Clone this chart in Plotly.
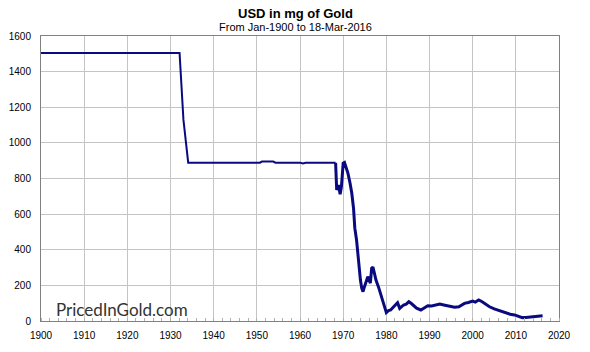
import plotly.graph_objects as go

years = [1900, 1932.1, 1933.0, 1933.5, 1933.7, 1934.1, 1950.7, 1951.2, 1953.8, 1954.3,
         1960.0, 1960.7, 1961.3, 1968.25, 1968.5, 1968.9, 1969.3, 1969.6, 1970.0, 1970.3,
         1970.6, 1971.1, 1971.6, 1972.0, 1972.4, 1972.7, 1973.1, 1973.3, 1973.6, 1973.8,
         1974.0, 1974.3, 1974.6, 1974.9, 1975.3, 1975.7, 1976.0, 1976.3, 1976.6, 1976.9,
         1977.3, 1977.6, 1978.2, 1978.7, 1979.2, 1979.6, 1980.0, 1980.5, 1981.0, 1981.7,
         1982.2, 1982.6, 1983.1, 1983.6, 1984.0, 1984.6, 1985.2, 1985.8, 1986.3, 1987.0,
         1988.0, 1988.8, 1989.6, 1990.5, 1991.5, 1992.4, 1993.3, 1994.2, 1995.0, 1995.8,
         1996.8, 1997.5, 1998.1, 1999.0, 1999.5, 2000.0, 2000.6, 2001.4, 2002.2, 2003.0,
         2003.9, 2005.0, 2005.9, 2006.9, 2007.8, 2008.7, 2009.7, 2010.5, 2011.5, 2012.3,
         2013.1, 2013.9, 2015.0, 2016.2]
mg_per_usd = [1504.6, 1504.6, 1129, 1000, 960, 888.7, 888.7, 895, 895, 889,
              889, 884, 888, 888, 736, 764, 712, 755, 886, 890,
              867, 830, 773, 717, 633, 521, 455, 399, 343, 268,
              230, 184, 165, 190, 221, 249, 230, 212, 296, 303,
              262, 230, 190, 146, 115, 80, 47, 58, 62, 80,
              95, 103, 71, 85, 90, 95, 108, 98, 86, 72,
              62, 72, 86, 84, 88, 95, 90, 84, 80, 77,
              80, 88, 99, 104, 108, 112, 106, 118, 108, 94,
              80, 68, 60, 52, 44, 38, 34, 26, 19, 20,
              22, 28, 28, 30]

title_text = "USD in mg of Gold"
subtitle_text = "From Jan-1900 to 18-Mar-2016"
watermark = "PricedInGold.com"
x_ticks = [1900, 1910, 1920, 1930, 1940, 1950, 1960, 1970, 1980, 1990, 2000, 2010, 2020]
y_ticks = [0, 200, 400, 600, 800, 1000, 1200, 1400, 1600]

# the fixed-parity era is drawn thinner, the floating era thicker (as in the source chart)
split = years.index(1968.25)
line_color = "#0a0a80"

fig = go.Figure()
fig.add_trace(go.Scatter(
    x=years[:split + 1], y=mg_per_usd[:split + 1], mode="lines",
    line=dict(color=line_color, width=2), hoverinfo="skip",
))
fig.add_trace(go.Scatter(
    x=years[split:], y=mg_per_usd[split:], mode="lines",
    line=dict(color=line_color, width=3), hoverinfo="skip",
))

fig.update_layout(
    width=590, height=352,
    margin=dict(l=40.5, r=30.5, t=36, b=31, pad=0, autoexpand=False),
    paper_bgcolor="white", plot_bgcolor="white",
    showlegend=False,
    font=dict(family="Liberation Sans, Arial, sans-serif", size=10, color="black"),
    annotations=[
        dict(text="<b>" + title_text + "</b>", xref="paper", yref="paper",
             x=0.5, y=1, xshift=-5, yshift=23, xanchor="center", yanchor="middle", showarrow=False,
             font=dict(family="Liberation Sans, Arial", size=13, color="black")),
        dict(text=subtitle_text, xref="paper", yref="paper",
             x=0.5, y=1, xshift=-5, yshift=9.5, xanchor="center", yanchor="middle", showarrow=False,
             font=dict(family="Liberation Sans, Arial", size=11, color="black")),
        dict(text=watermark, xref="paper", yref="paper",
             x=0, y=0, xshift=13, yshift=-1, xanchor="left", yanchor="bottom", showarrow=False,
             font=dict(family="Lato, sans-serif", size=17, color="#333333")),
    ],
)
fig.update_xaxes(
    range=[1900, 2020], tickvals=x_ticks, ticktext=[str(t) for t in x_ticks],
    showgrid=True, gridcolor="#c4c4c4", gridwidth=1, automargin=False,
    showline=True, linecolor="#808080", linewidth=1, mirror=True,
    ticks="", zeroline=False, tickfont=dict(size=10), ticklabelstandoff=5,
    minor=dict(dtick=2, ticks="inside", ticklen=3, tickcolor="#b0b0b0", showgrid=False),
)
fig.update_yaxes(
    range=[0, 1600], tickvals=y_ticks, ticktext=[str(t) for t in y_ticks],
    showgrid=True, gridcolor="#c4c4c4", gridwidth=1, automargin=False,
    showline=True, linecolor="#808080", linewidth=1, mirror=True,
    ticks="", zeroline=False, tickfont=dict(size=10), ticklabelstandoff=7,
)

fig.write_html("out.html")
